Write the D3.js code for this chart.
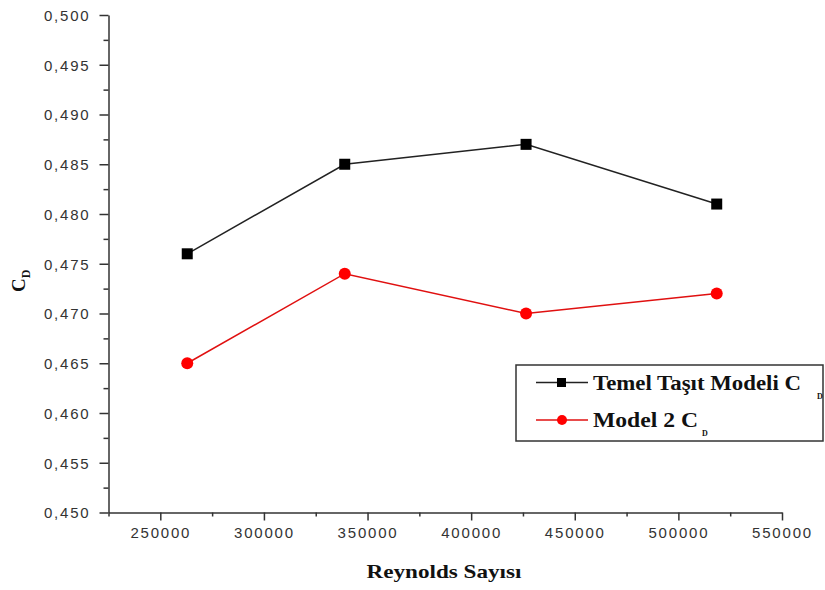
<!DOCTYPE html>
<html>
<head>
<meta charset="utf-8">
<script src="https://cdn.jsdelivr.net/npm/d3@7"></script>
<style>
  html, body { margin: 0; padding: 0; background: #fff; }
  svg { display: block; }
  .tick text { font-family: "Liberation Sans", Arial, sans-serif; font-size: 15px; fill: #333; letter-spacing: 1.8px; }
</style>
</head>
<body>
<svg id="chart" width="825" height="590"></svg>
<script>
// ---- data ----
const reynolds = [263000, 339000, 426500, 518500];
const temelCD = [0.476, 0.485, 0.487, 0.481];
const model2CD = [0.465, 0.474, 0.470, 0.472];
const seriesNames = ["Temel Taşıt Modeli C", "Model 2 C"];
const xTicks = [250000, 300000, 350000, 400000, 450000, 500000, 550000];
const xMinorTicks = [225000, 275000, 325000, 375000, 425000, 475000, 525000];
const yTicks = [0.450, 0.455, 0.460, 0.465, 0.470, 0.475, 0.480, 0.485, 0.490, 0.495, 0.500];
const yMinorTicks = [0.4525, 0.4575, 0.4625, 0.4675, 0.4725, 0.4775, 0.4825, 0.4875, 0.4925, 0.4975];

const svg = d3.select("#chart");
const axisColor = "#333";

const x = d3.scaleLinear().domain([225000, 550000]).range([108.5, 782]);
const y = d3.scaleLinear().domain([0.450, 0.500]).range([512.5, 15]);

// minor ticks
svg.append("g").attr("transform", "translate(0,512.5)")
  .call(d3.axisBottom(x).tickValues(xMinorTicks).tickSize(4).tickFormat(""))
  .call(g => g.select(".domain").remove());
svg.append("g").attr("transform", "translate(108.5,0)")
  .call(d3.axisLeft(y).tickValues(yMinorTicks).tickSize(5).tickFormat(""))
  .call(g => g.select(".domain").remove());

// major axes
const xAxis = svg.append("g").attr("transform", "translate(0,512.5)")
  .call(d3.axisBottom(x).tickValues(xTicks).tickSize(8).tickSizeOuter(0).tickPadding(9).tickFormat(d3.format("d")));
const yAxis = svg.append("g").attr("transform", "translate(108.5,0)")
  .call(d3.axisLeft(y).tickValues(yTicks).tickSize(9).tickSizeOuter(0).tickPadding(9)
    .tickFormat(d => d3.format(".3f")(d).replace(".", ",")));

svg.selectAll(".domain, .tick line").attr("stroke", axisColor).attr("stroke-width", 1.5);
xAxis.selectAll(".tick text").attr("dy", "0.55em");
yAxis.selectAll(".tick text").attr("dy", "0.36em");

// axis titles
svg.append("text")
  .attr("x", 444).attr("y", 578)
  .attr("text-anchor", "middle")
  .attr("font-family", "'Liberation Serif', 'Times New Roman', serif")
  .attr("font-weight", "bold").attr("font-size", 19)
  .attr("textLength", 155).attr("lengthAdjust", "spacingAndGlyphs")
  .attr("fill", "#111")
  .text("Reynolds Sayısı");

const yt = svg.append("text")
  .attr("transform", "translate(25,292) rotate(-90)")
  .attr("font-family", "'Liberation Serif', 'Times New Roman', serif")
  .attr("font-weight", "bold").attr("fill", "#111");
yt.append("tspan").attr("font-size", 19).text("C");
yt.append("tspan").attr("font-size", 12).attr("dy", 5).text("D");

// lines
const line = d3.line().x((d, i) => x(reynolds[i])).y(d => y(d));
svg.append("path").datum(temelCD).attr("d", line)
  .attr("fill", "none").attr("stroke", "#222").attr("stroke-width", 1.5);
svg.append("path").datum(model2CD).attr("d", line)
  .attr("fill", "none").attr("stroke", "#e01010").attr("stroke-width", 1.5);

// markers
svg.selectAll("rect.m1").data(temelCD).enter().append("rect")
  .attr("x", (d, i) => x(reynolds[i]) - 5.5).attr("y", d => y(d) - 5.5)
  .attr("width", 11).attr("height", 11).attr("fill", "#000");
svg.selectAll("circle.m2").data(model2CD).enter().append("circle")
  .attr("cx", (d, i) => x(reynolds[i])).attr("cy", d => y(d))
  .attr("r", 6).attr("fill", "#ff0000");

// legend
const lg = svg.append("g");
lg.append("rect").attr("x", 516).attr("y", 365).attr("width", 307).attr("height", 76)
  .attr("fill", "#fff").attr("stroke", axisColor).attr("stroke-width", 1.5);
const rows = [
  {name: seriesNames[0], color: "#222", mark: "rect", yy: 382.5, w: 208, subX: 817, subDy: 9},
  {name: seriesNames[1], color: "#e01010", mark: "circle", yy: 420, w: 105, subX: 702, subDy: 9}
];
rows.forEach(r => {
  lg.append("line").attr("x1", 536).attr("x2", 588).attr("y1", r.yy).attr("y2", r.yy)
    .attr("stroke", r.color).attr("stroke-width", 1.5);
  if (r.mark === "rect") {
    lg.append("rect").attr("x", 557).attr("y", r.yy - 4.5).attr("width", 9).attr("height", 9).attr("fill", "#000");
  } else {
    lg.append("circle").attr("cx", 562).attr("cy", r.yy).attr("r", 5).attr("fill", "#ff0000");
  }
  lg.append("text").attr("x", 593).attr("y", r.yy + 7)
    .attr("font-family", "'Liberation Serif', 'Times New Roman', serif")
    .attr("font-weight", "bold").attr("font-size", 20).attr("fill", "#111")
    .attr("textLength", r.w).attr("lengthAdjust", "spacingAndGlyphs")
    .text(r.name);
  lg.append("text").attr("x", r.subX).attr("y", r.yy + 7 + r.subDy)
    .attr("font-family", "'Liberation Serif', 'Times New Roman', serif")
    .attr("font-weight", "bold").attr("font-size", 8).attr("fill", "#111")
    .text("D");
});
</script>
</body>
</html>
